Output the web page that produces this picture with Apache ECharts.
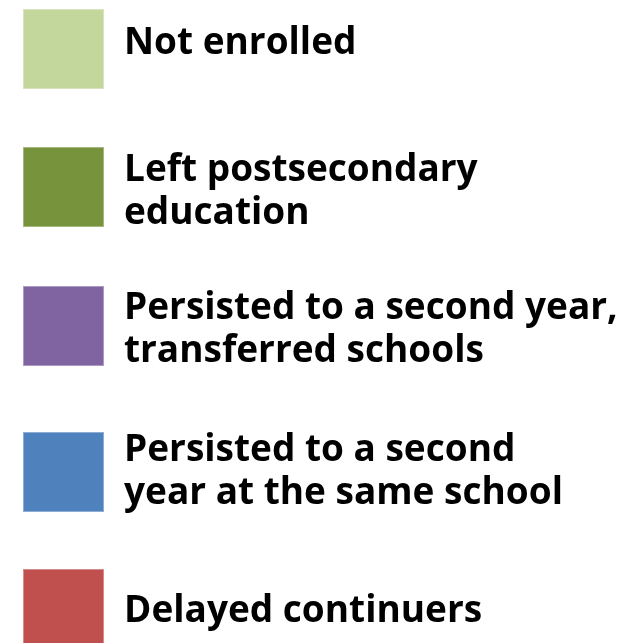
<!DOCTYPE html>
<html>
<head>
<meta charset="utf-8">
<title>Enrollment outcomes legend</title>
<script src="https://cdn.jsdelivr.net/npm/echarts@6/dist/echarts.min.js"></script>
<style>
	html, body { margin: 0; padding: 0; background: #fff; }
	#main { width: 631px; height: 643px; }
</style>
</head>
<body>
<div id="main"></div>
<script type="text/javascript">
	// legend entries, top to bottom
	var names = [
		'Not enrolled',
		'Left postsecondary\neducation',
		'Persisted to a second year,\ntransferred schools',
		'Persisted to a second\nyear at the same school',
		'Delayed continuers'
	];
	var colors = ['#c3d69b', '#77933c', '#8064a2', '#4f81bd', '#c0504d'];
	// where each square starts, and how far its label sits off the square's middle (+ = lower)
	var squareTops = [8, 147, 286, 432, 568];
	var textShift = [-6, 5, 4, 0, 2];

	var LINE_H = 43;
	var SQUARE = 80;

	function labelFormatter(shift) {
		return function (name) {
			var lines = name.split('\n').map(function (l) { return '{t|' + l + '}'; });
			if (shift > 0) lines.unshift('{s' + shift + '| }');
			if (shift < 0) lines.push('{s' + (-shift) + '| }');
			return lines.join('\n');
		};
	}

	var series = [];
	var legends = [];
	for (var i = 0; i < names.length; i++) {
		var nLines = names[i].split('\n').length;
		var textH = nLines * LINE_H + 2 * Math.abs(textShift[i]);
		var rich = {
			t: { fontFamily: 'Open Sans', fontWeight: 'bold', fontSize: 37, lineHeight: LINE_H, color: '#000' }
		};
		rich['s' + Math.abs(textShift[i])] = { fontSize: 1, lineHeight: 2 * Math.abs(textShift[i]) };

		series.push({
			name: names[i],
			type: 'bar',
			data: [],
			itemStyle: { color: colors[i], borderColor: 'rgba(255,255,255,0.35)', borderWidth: 1 }
		});
		legends.push({
			data: [names[i]],
			orient: 'vertical',
			left: 22,
			top: squareTops[i] - Math.max(0, (textH - SQUARE) / 2),
			padding: 0,
			itemWidth: 81,
			itemHeight: SQUARE,
			icon: 'rect',
			selectedMode: false,
			formatter: labelFormatter(textShift[i]),
			textStyle: {
				color: '#000',
				fontFamily: 'Open Sans',
				fontWeight: 'bold',
				fontSize: 37,
				lineHeight: LINE_H,
				padding: [0, 0, 0, 15],
				rich: rich
			}
		});
	}

	var option = {
		animation: false,
		legend: legends,
		grid: { left: -10, top: -10, width: 1, height: 1, show: false },
		xAxis: { type: 'category', show: false, data: [] },
		yAxis: { type: 'value', show: false },
		series: series
	};

	var myChart = echarts.init(document.getElementById('main'));
	myChart.setOption(option);
</script>
</body>
</html>
